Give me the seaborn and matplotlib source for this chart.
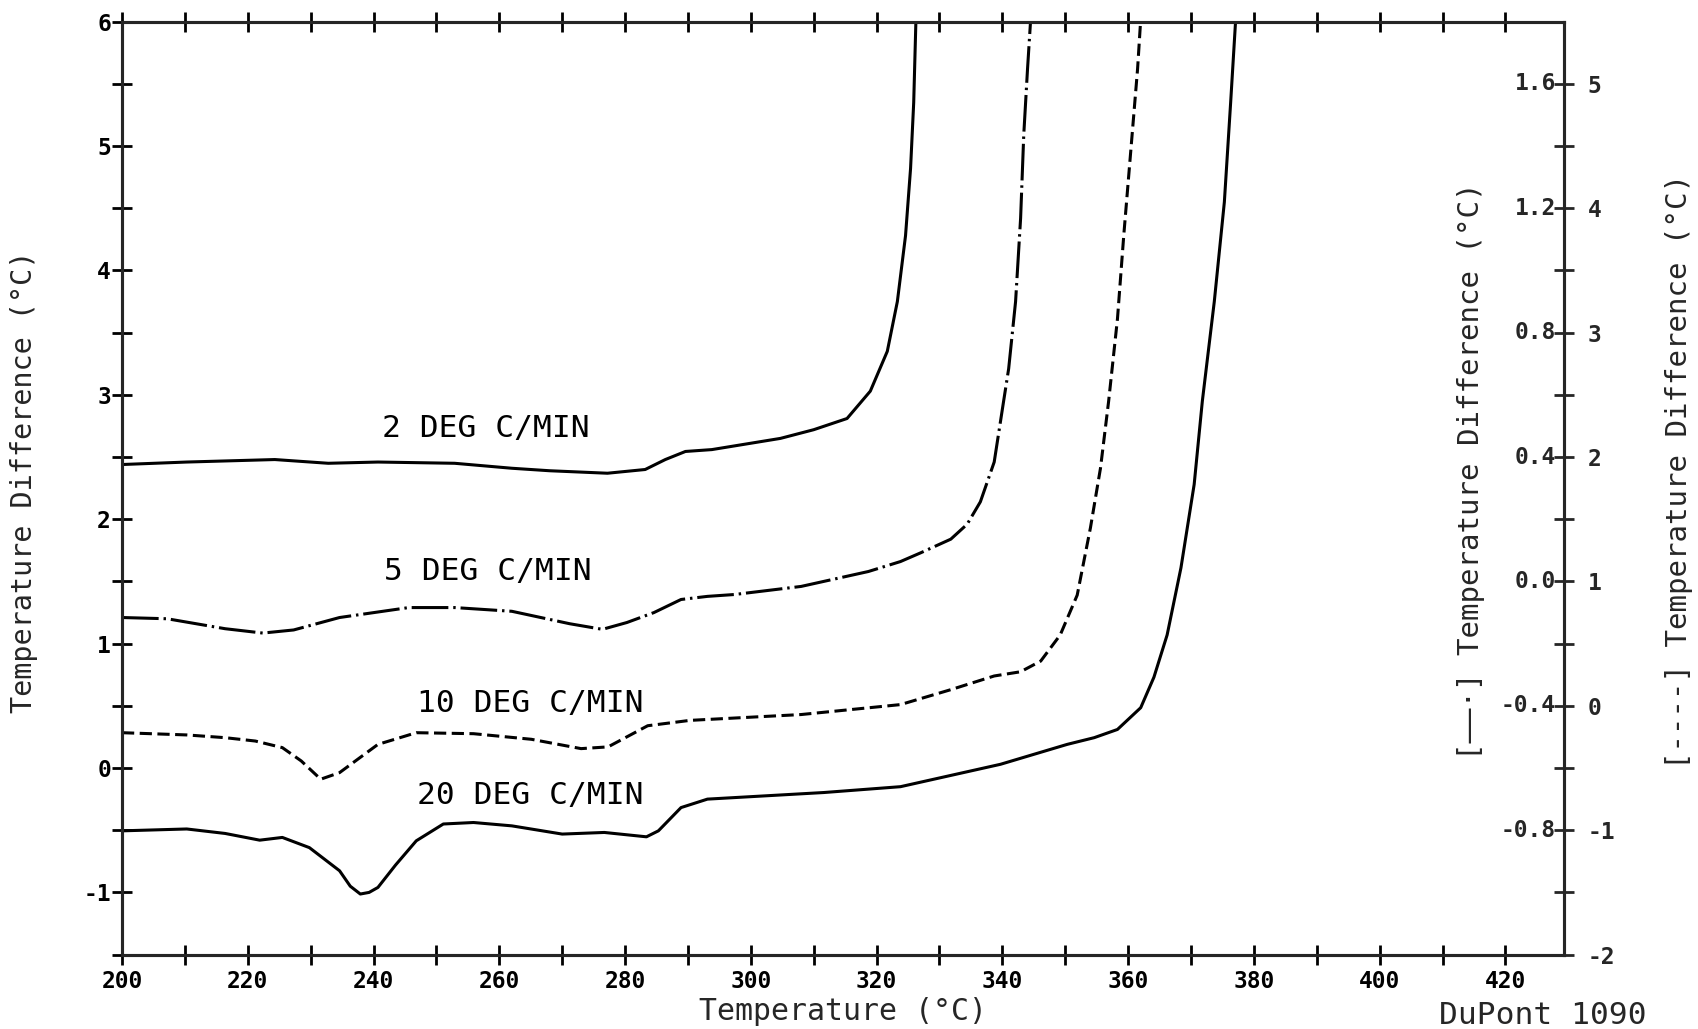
import matplotlib
matplotlib.use("Agg")
import matplotlib.pyplot as plt
import numpy as np
import seaborn as sns
from matplotlib.transforms import blended_transform_factory

# Curvas DSC (temperatura en grados C, diferencia en grados C)
temp_2 = [200, 210.3, 224.3, 232.8, 240.7, 252.9, 262, 268, 277.2, 283.2, 286.4, 289.6,
          293.8, 304.7, 310, 315.3, 319, 321.7, 323.3, 324.6, 325.4, 325.9, 326.3]
dt_2 = [2.44, 2.46, 2.48, 2.45, 2.46, 2.45, 2.41, 2.39, 2.37, 2.40, 2.48, 2.545,
        2.56, 2.65, 2.72, 2.81, 3.03, 3.35, 3.75, 4.28, 4.82, 5.35, 6.1]

temp_5 = [200, 207.2, 216.4, 222.4, 227.3, 234.6, 245.6, 252.9, 262, 271.2, 276.4, 280.3,
          284.6, 288.9, 293.1, 297.4, 308, 318.7, 323.8, 327, 331.8, 334.4, 336.5, 338.7,
          340.2, 341, 342.1, 342.9, 343.4, 344, 344.6]
dt_5 = [1.21, 1.20, 1.12, 1.085, 1.11, 1.21, 1.29, 1.29, 1.26, 1.16, 1.115, 1.17,
        1.25, 1.355, 1.38, 1.395, 1.46, 1.58, 1.66, 1.73, 1.84, 1.96, 2.14, 2.46,
        2.95, 3.21, 3.75, 4.42, 5.09, 5.62, 6.1]

temp_10 = [200, 210.3, 216.4, 221.2, 225.5, 228.5, 231.6, 234.6, 240.7, 246.8, 255.9, 265.1,
           273, 277.3, 283.6, 290.3, 308, 323.8, 331.8, 338.7, 342.9, 346.1, 349.2, 351.9,
           354, 355.6, 356.9, 358.3, 359.3, 360.4, 361.5, 362.1]
dt_10 = [0.284, 0.266, 0.244, 0.217, 0.164, 0.057, -0.09, -0.037, 0.19, 0.284, 0.276, 0.231,
         0.156, 0.17, 0.34, 0.383, 0.43, 0.51, 0.63, 0.74, 0.774, 0.86, 1.07, 1.39,
         1.93, 2.41, 2.95, 3.61, 4.28, 4.95, 5.62, 6.1]

temp_20 = [200, 210.3, 216.4, 221.9, 225.5, 229.8, 234.6, 236.3, 237.9, 239.3, 240.7, 243.5,
           246.8, 251.1, 255.9, 262, 270, 276.7, 283.4, 285.3, 288.9, 293.1, 311.6, 323.8,
           339.7, 350.3, 354.6, 358.3, 362, 364.1, 366.2, 368.4, 370.5, 371.8, 373.7, 375.3,
           376.3, 377.2]
dt_20 = [-0.505, -0.49, -0.526, -0.58, -0.558, -0.64, -0.826, -0.95, -1.013, -1.0, -0.96, -0.78,
         -0.585, -0.45, -0.438, -0.465, -0.531, -0.518, -0.553, -0.505, -0.318, -0.25, -0.197, -0.15,
         0.03, 0.19, 0.244, 0.31, 0.485, 0.73, 1.07, 1.61, 2.28, 2.95, 3.75, 4.55,
         5.35, 6.1]

rotulos = ["2 DEG C/MIN", "5 DEG C/MIN", "10 DEG C/MIN", "20 DEG C/MIN"]
rotulo_t = [257.9, 258.2, 264.9, 264.9]
rotulo_dt = [2.73, 1.58, 0.52, -0.224]

# Escalas de los ejes
x_ticks = np.arange(200, 421, 10)
y_ticks = np.arange(-1.5, 6.01, 0.5)
der_ticks = np.arange(-2, 5.01, 0.5)
int_ticks = [1.6, 1.2, 0.8, 0.4, 0.0, -0.4, -0.8]
int_labels = ["1.6", "1.2", "0.8", "0.4", "0.0", "-0.4", "-0.8"]

sns.set_style("ticks")
plt.rcParams['font.family'] = ['DejaVu Sans Mono', 'DejaVu Sans']

fig = plt.figure(figsize=(16.99, 10.29), dpi=100)
ax = fig.add_axes([0.0718, 0.0723, 0.8487, 0.9066])

curvas = [(temp_2, dt_2, "-"),
          (temp_5, dt_5, (0, (12, 1.6, 0.8, 1.6))),
          (temp_10, dt_10, (0, (4, 1.8))),
          (temp_20, dt_20, "-")]
for t, d, estilo in curvas:
    sns.lineplot(x=t, y=d, ax=ax, color="black", linewidth=2.2, linestyle=estilo,
                 estimator=None, errorbar=None)

for txt, t, d in zip(rotulos, rotulo_t, rotulo_dt):
    ax.text(t, d, txt, ha="center", va="center", fontsize=22.5, color="black")

ax.set_xlim(200, 429.3)
ax.set_ylim(-1.5, 6)
ax.set_xticks(x_ticks)
ax.set_xticklabels([str(int(v)) if v % 20 == 0 else "" for v in x_ticks], fontweight="bold")
ax.set_yticks(y_ticks)
ax.set_yticklabels([str(int(v)) if v == int(v) else "" for v in y_ticks], fontweight="bold")
ax.tick_params(axis="both", direction="inout", length=14, width=2, labelsize=16.5,
               top=True, right=False, colors="black")
ax.tick_params(axis="y", pad=1)
ax.tick_params(axis="x", pad=4)
for s in ax.spines.values():
    s.set_linewidth(2.2)
    s.set_color("black")

ax.set_xlabel("Temperature (°C)", fontsize=21.5)
ax.xaxis.set_label_coords(0.5, -0.045)
ax.set_ylabel("Temperature Difference (°C)", fontsize=20.5)
ax.yaxis.set_label_coords(-0.058, 0.507)

# eje derecho exterior
ax2 = ax.twinx()
ax2.set_ylim(-2, 5.5)
ax2.set_yticks(der_ticks)
ax2.set_yticklabels([str(int(v)) if v == int(v) else "" for v in der_ticks], fontweight="bold")
ax2.tick_params(axis="y", direction="inout", length=14, width=2, labelsize=16.5, pad=10)
for s in ax2.spines.values():
    s.set_linewidth(2.2)

# eje derecho interior (etiquetas dentro del grafico)
ax3 = ax.twinx()
ax3.set_ylim(-1.2, 1.8)
ax3.set_axis_off()
trans = blended_transform_factory(ax3.transAxes, ax3.transData)
for v, lab in zip(int_ticks, int_labels):
    ax3.text(0.9945, v, lab, transform=trans, ha="right", va="center",
             fontsize=16.5, fontweight="bold")

ax.text(0.9355, 0.518, "[——·] Temperature Difference (°C)", transform=ax.transAxes,
        rotation=90, ha="center", va="center", fontsize=21)
ax.text(1.0798, 0.518, "[----] Temperature Difference (°C)", transform=ax.transAxes,
        rotation=90, ha="center", va="center", fontsize=21)

fig.text(0.969, 0.013, "DuPont 1090", ha="right", va="center", fontsize=22.5)

plt.savefig("out.png", dpi=100)
